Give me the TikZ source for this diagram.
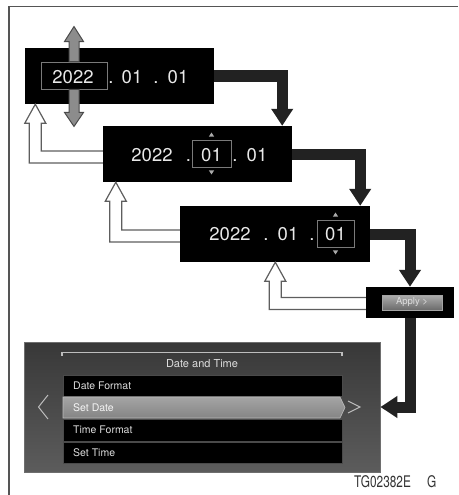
\documentclass[tikz,border=0pt]{standalone}
\usepackage{fontspec}
\setsansfont{TeX Gyre Heros}
\usetikzlibrary{arrows.meta,calc}
\definecolor{scrtxt}{HTML}{E8E8E8}
\definecolor{selbd}{HTML}{7A7A7A}
\definecolor{conn}{HTML}{222222}
\definecolor{holbd}{HTML}{5E5E5E}
\definecolor{garr}{HTML}{8C8C8C}
\definecolor{garrbd}{HTML}{4A4A4A}
\definecolor{framec}{HTML}{555555}
\definecolor{pnltop}{HTML}{383838}
\definecolor{pnlbot}{HTML}{5C5C5C}
\definecolor{pnlbd}{HTML}{6E6E6E}
\definecolor{rowbd}{HTML}{4A4A4A}
\definecolor{hitop}{HTML}{A4A4A4}
\definecolor{hibot}{HTML}{858585}
\definecolor{lgray}{HTML}{BDBDBD}
\definecolor{rowtx}{HTML}{DDDDDD}
\definecolor{tric}{HTML}{AAAAAA}
\definecolor{codec}{HTML}{333333}
\newcommand\hollowarrow[2]{%
  \draw[hol] ($(#1)+(0,-6)$) -- ($(#2|-#1)+(6,-6)$) -- ($(#2)+(6,19)$) -- ($(#2)+(10.5,19)$) -- (#2)
    -- ($(#2)+(-10.5,19)$) -- ($(#2)+(-6,19)$) -- ($(#2|-#1)+(-6,6)$) -- ($(#1)+(0,6)$);}
\newcommand\seltris[1]{%
  \fill[tric] ($(#1.north)+(0,-7)$) -- ($(#1.north)+(-2.6,-3)$) -- ($(#1.north)+(2.6,-3)$) -- cycle;
  \fill[tric] ($(#1.south)+(0,7)$) -- ($(#1.south)+(-2.6,3)$) -- ($(#1.south)+(2.6,3)$) -- cycle;}
\begin{document}
\begin{tikzpicture}[x=1pt,y=-1pt,font=\sffamily,
  scr/.style={fill=black, inner sep=0pt},
  sel/.style={draw=selbd, line width=0.9pt, fill=black, inner sep=0pt},
  dig/.style={text=scrtxt, font=\sffamily\fontsize{18.5}{18.5}\selectfont, inner sep=0pt, anchor=base},
  blk/.style={draw=conn, line width=11pt, -{Triangle[width=21pt,length=17pt]}},
  hol/.style={draw=holbd, fill=white, line width=1.2pt, line join=miter},
  garrow/.style={draw=garrbd, fill=garr, line width=1pt, line join=miter},
  row/.style={fill=black, draw=rowbd, line width=0.6pt, minimum width=279pt, inner sep=0pt},
  rowtxt/.style={text=rowtx, font=\sffamily\fontsize{10.5}{10.5}\selectfont, anchor=west, inner sep=0pt},
  chev/.style={draw=lgray, line width=1pt, line join=miter}
]
\useasboundingbox (0,0) rectangle (458,495);
% frame
\draw[framec, line width=1.5pt] (458,6.5) -- (9,6.5) -- (9,495);

% screens
\node[scr, minimum width=189pt, minimum height=56pt] (b1) at (119.5,76) {};
\node[scr, minimum width=189pt, minimum height=56pt] (b2) at (197.5,154) {};
\node[scr, minimum width=190pt, minimum height=56pt] (b3) at (275,234) {};
\node[scr, minimum width=88pt, minimum height=31pt] (ap) at (410,302.5) {};
\node[fill=gray, top color=hitop!90, bottom color=hibot!80!black, draw=hitop, line width=0.8pt,
      minimum width=60pt, minimum height=15pt, inner sep=0pt, text=rowtx,
      font=\sffamily\fontsize{9.5}{9.5}\selectfont] (apb) at (412,302.5) {Apply >};

% screen 1
\node[sel, minimum width=66pt, minimum height=27pt] (sel1) at (74,75.5) {};
\node[dig] (y1) at (73,83) {2022};
\node[dig] (d1a) at (111,83) {.};
\node[dig] (m1) at (132,83) {01};
\node[dig] (d1b) at (156,83) {.};
\node[dig] (day1) at (178,83) {01};
\draw[garrow] (sel1.north) ++(-5,0) -- ++(0,-20) -- ++(-4.5,0) -- ++(9.5,-15) -- ++(9.5,15) -- ++(-4.5,0) -- ++(0,20) -- cycle;
\draw[garrow] (sel1.south) ++(-5,0) -- ++(0,23) -- ++(-4.5,0) -- ++(9.5,14) -- ++(9.5,-14) -- ++(-4.5,0) -- ++(0,-23) -- cycle;

% screen 2
\node[sel, minimum width=39pt, minimum height=27pt] (sel2) at (211.5,153.5) {};
\node[dig] (y2) at (152,161) {2022};
\node[dig] (d2a) at (188.5,161) {.};
\node[dig] (m2) at (211.5,161) {01};
\node[dig] (d2b) at (235,161) {.};
\node[dig] (day2) at (257,161) {01};
\seltris{sel2}

% screen 3
\node[sel, minimum width=37pt, minimum height=27pt] (sel3) at (335.5,233.5) {};
\node[dig] (y3) at (230,240) {2022};
\node[dig] (d3a) at (266,240) {.};
\node[dig] (m3) at (288,240) {01};
\node[dig] (d3b) at (312,240) {.};
\node[dig] (day3) at (335.5,240) {01};
\seltris{sel3}

% bottom panel
\node[top color=pnltop, bottom color=pnlbot, draw=pnlbd, line width=0.8pt,
      minimum width=356pt, minimum height=130pt, inner sep=0pt] (pn) at (202,407) {};
\draw[lgray, line width=1.4pt] (62,355.5) -- (62,352.5) -- (342,352.5) -- (342,355.5);
\node[text=rowtx, font=\sffamily\fontsize{11}{11}\selectfont, inner sep=0pt] (ttl) at (202,364) {Date and Time};
\node[row, minimum height=21pt] (r1) at (202.5,385.5) {};
\node[row, minimum height=22pt] (r3) at (202.5,430) {};
\node[row, minimum height=21pt] (r4) at (202.5,452.5) {};
\shade[top color=hitop, bottom color=hibot, draw=lgray, line width=0.6pt]
  (63,397) -- (340,397) -- (345,407.5) -- (340,418) -- (63,418) -- cycle;
\node[rowtxt] (t1) at (73,385.5) {Date Format};
\node[rowtxt, text=white!92!gray] (t2) at (73,407.5) {Set Date};
\node[rowtxt] (t3) at (73,430) {Time Format};
\node[rowtxt] (t4) at (73,452.5) {Set Time};
\draw[chev] (48,395) -- (38.5,407) -- (48,419);
\draw[chev] (348,401) -- (360,407) -- (348,413);

% code
\node[anchor=base west, inner sep=0pt, text=codec, font=\sffamily\fontsize{16}{16}\selectfont] (code) at (354,487) {\scalebox{0.74}[1]{TG02382E}};
\node[anchor=base west, inner sep=0pt, text=codec, font=\sffamily\fontsize{16}{16}\selectfont] (codeg) at (427,487) {\scalebox{0.74}[1]{G}};

% forward connectors
\draw[blk] (b1.east) -| ([xshift=-10pt]b2.north east);
\draw[blk] (b2.east) -| ([xshift=-10pt]b3.north east);
\draw[blk] (b3.east) -| (ap.north);
\draw[blk] (ap.south) |- (pn.east);

% return arrows
\coordinate (sA) at ([yshift=-3pt]b2.west);
\coordinate (tA) at ([xshift=10.5pt]b1.south west);
\coordinate (sB) at ([yshift=-2pt]b3.west);
\coordinate (tB) at ([xshift=13pt]b2.south west);
\coordinate (sC) at ([yshift=-1pt]ap.west);
\coordinate (tC) at ([xshift=95.5pt]b3.south west);
\hollowarrow{sA}{tA}
\hollowarrow{sB}{tB}
\hollowarrow{sC}{tC}
\end{tikzpicture}
\end{document}
